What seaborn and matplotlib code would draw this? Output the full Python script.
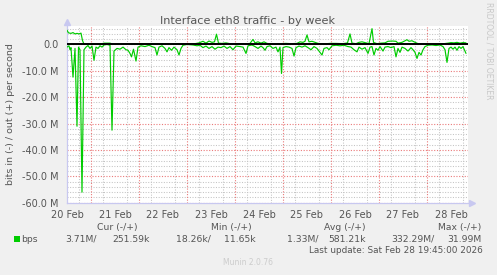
import numpy as np
import pandas as pd
import matplotlib
matplotlib.use("Agg")
import matplotlib.pyplot as plt
from matplotlib.ticker import FixedLocator
from matplotlib.patches import Rectangle
import seaborn as sns

# ---- data (hours since 20 Feb 12:00, values in Mbit/s) ----
in_hours = [0, 1, 1.5, 2, 3, 4, 5, 5.75, 6.5, 7.5, 8.5, 9.5, 10.5, 11.5, 12.5, 13.5, 14.5,
            15.5, 16.5, 17.5, 18.5, 20, 21.5, 22.5, 23.5, 25, 26.5, 28, 29.5, 30.5, 31.5,
            32.25, 33.25, 34.5, 35.5, 37, 39, 41, 42.5, 44, 45, 46, 47.5, 49, 50, 51,
            52.25, 53.5, 55, 56, 57, 58, 60, 63, 65, 66.5, 68, 69.5, 71, 72.5, 74, 75.5,
            77, 78.5, 80, 81.5, 83, 84.5, 86.5, 88, 89.5, 90.5, 92.5, 94, 95.5, 97, 98,
            99, 100, 101.5, 103, 104.5, 105.5, 106.5, 107.25, 108, 109.5, 111, 112.5,
            113.5, 114.5, 116, 117.5, 119, 120.5, 122, 123.5, 125, 126, 127.5, 128.5,
            130, 131, 132.5, 134.5, 136.5, 138.5, 140.5, 142, 143.5, 145, 146, 147.5,
            149, 150.5, 151.5, 152.5, 153.5, 154.5, 155.5, 156.5, 158, 159, 160.5, 162,
            163.5, 164.5, 165.5, 166.5, 167.5, 169, 170.5, 172, 173, 174, 175, 176, 177,
            178, 179, 180.5, 182.5, 184.5, 186.5, 188, 189, 190, 191, 192, 193, 194, 195,
            196, 197, 198, 199.5]
in_vals = [-1.0, -0.5, -2.0, -1.2, -12.4, -1.5, -31.0, -1.0, -2.0, -56.0, -2.0, -1.0, -0.4,
           -1.5, -0.6, -6.0, -1.0, -1.5, -0.5, -1.0, -0.2, 0.0, -0.3, -32.5, -2.5, -1.5,
           -1.8, -1.0, -2.0, -2.2, -3.4, -4.7, -1.8, -6.3, -1.0, -0.5, -0.8, -0.3, -0.8,
           -1.2, -4.0, -1.0, -0.5, -1.5, -2.8, -1.2, -2.2, -1.0, -2.0, -4.0, -1.5, -0.3,
           0.0, -0.2, -0.5, -0.3, -1.2, -0.6, -1.5, -0.8, -1.8, -1.0, -1.2, -0.6, -1.5,
           -0.8, -2.0, -0.6, -0.8, -1.0, -3.4, -0.5, -0.2, -0.8, -1.5, -0.6, -1.2, -2.2,
           -0.8, -0.5, -1.5, -1.0, -2.8, -1.0, -11.0, -1.2, -0.8, -1.0, -1.5, -4.4, -1.2,
           -0.6, -1.0, -0.5, -1.2, -2.0, -0.8, -1.5, -2.5, -4.0, -1.5, -1.2, -2.0, -0.5,
           -0.3, -0.5, -0.3, -0.8, -1.0, -2.0, -2.8, -1.0, -1.8, -1.2, -3.4, -1.0, -0.8,
           -4.0, -1.5, -2.2, -0.8, -2.5, -1.0, -0.8, -1.2, -0.8, -4.7, -1.5, -3.0, -1.0,
           -1.5, -2.5, -1.2, -2.0, -3.0, -5.3, -3.0, -4.0, -2.0, -0.8, -0.3, -0.2, -0.4,
           -0.2, -0.8, -2.0, -6.8, -1.5, -1.0, -1.8, -1.0, -2.2, -0.8, -1.5, -0.8, -3.4]

out_hours = [0, 0.75, 2, 3, 4, 5, 6, 7, 7.75, 8.5, 11.5, 16.5, 18.5, 21.5, 23, 31.5, 41.5,
             51.5, 59, 64, 66, 68, 69.5, 71, 72.5, 73.75, 74.75, 75.75, 77.5, 79.5, 81.5,
             84, 86.5, 89, 91.5, 93, 94, 95.5, 97, 98.5, 100, 102, 104.5, 106.5, 109.5,
             112, 115, 116.5, 118, 119, 120, 121, 122.5, 124, 125.5, 128.5, 131.5, 134.5,
             138, 140.25, 141.5, 142.5, 144.5, 146, 147.5, 149, 151, 152.5, 153.25, 155,
             157, 159, 160.5, 162.5, 164.5, 165.5, 167.5, 168.5, 170, 171, 172.5, 173.5,
             175.5, 177.5, 180.5, 184.5, 187.5, 190.5, 192, 193.5, 195, 196.5, 198, 199.5]
out_vals = [5.4, 4.4, 4.2, 4.5, 4.0, 4.2, 4.0, 4.3, 1.5, 0.1, 0.2, 0.1, 0.5, 0.5, 0.1, 0.2,
            0.1, 0.2, 0.1, 0.3, 0.6, 1.2, 0.5, 1.3, 0.8, 1.0, 3.9, 0.5, 0.4, 0.6, 0.3, 0.2,
            0.3, 0.2, 0.4, 1.9, 0.6, 1.0, 0.5, 1.0, 0.4, 0.2, 0.1, 0.3, 0.4, 0.3, 0.4, 1.0,
            0.8, 1.2, 3.6, 1.0, 1.2, 0.8, 0.4, 0.2, 0.4, 0.4, 0.3, 0.6, 4.0, 0.5, 0.3, 0.8,
            1.0, 0.7, 0.3, 6.0, 0.8, 0.3, 0.5, 0.6, 1.2, 1.3, 1.2, 0.5, 0.8, 1.2, 1.8, 1.2,
            1.4, 1.0, 0.3, 0.2, 0.1, 0.1, 0.2, 0.5, 0.7, 0.6, 0.8, 0.5, 0.7, 0.6]

day_labels = ["20 Feb", "21 Feb", "22 Feb", "23 Feb", "24 Feb", "25 Feb", "26 Feb",
              "27 Feb", "28 Feb"]
y_ticks = [0, -10, -20, -30, -40, -50, -60]
y_labels = ["0.0", "-10.0 M", "-20.0 M", "-30.0 M", "-40.0 M", "-50.0 M", "-60.0 M"]

title = "Interface eth8 traffic - by week"
ylabel = "bits in (-) / out (+) per second"
legend_headers = ["Cur (-/+)", "Min (-/+)", "Avg (-/+)", "Max (-/+)"]
legend_name = "bps"
legend_values = [("3.71M/", "251.59k"), ("18.26k/", "11.65k"),
                 ("1.33M/", "581.21k"), ("332.29M/", "31.99M")]
last_update = "Last update: Sat Feb 28 19:45:00 2026"
footer = "Munin 2.0.76"
side_text = "RRDTOOL / TOBI OETIKER"

# ---- style ----
sns.set_style("white")
plt.rcParams["font.family"] = ["DejaVu Sans"]
TXT = "#555555"
GREEN = "#00CC00"
BG = "#F0F0F0"
W, H = 497, 275
GRAY_GRID = "#C4C4C4"
RED_GRID = "#EA7A7A"
DOT = (0, (1, 1.5))

fig = plt.figure(figsize=(W / 100, H / 100), dpi=100, facecolor=BG)
ax = fig.add_axes([67 / W, 1 - 202.7 / H, 401 / W, (202.7 - 26) / H])
ax.set_facecolor("white")

df_in = pd.DataFrame({"hour": in_hours, "value": in_vals})
df_out = pd.DataFrame({"hour": out_hours, "value": out_vals})
sns.lineplot(data=df_in, x="hour", y="value", ax=ax, color=GREEN, lw=0.85,
             estimator=None, sort=False, zorder=3)
sns.lineplot(data=df_out, x="hour", y="value", ax=ax, color=GREEN, lw=0.85,
             estimator=None, sort=False, zorder=3)
ax.axhline(0, color="black", lw=1.4, zorder=4)

ax.set_xlim(0, 200.5)
ax.set_ylim(-60, 7)

# grids: minor gray every 6 h / 2 M, major red at midnights / every 10 M
ax.xaxis.set_major_locator(FixedLocator([24 * i for i in range(len(day_labels))]))
ax.set_xticklabels(day_labels)
ax.xaxis.set_minor_locator(FixedLocator([h for h in range(0, 201, 6) if h % 24 != 12]))
ax.set_yticks(y_ticks)
ax.set_yticklabels(y_labels)
ax.yaxis.set_minor_locator(FixedLocator([v for v in range(-60, 8, 2) if v % 10 != 0]))
ax.grid(False)
ax.grid(which="minor", axis="both", color=GRAY_GRID, ls=DOT, lw=0.75, zorder=1)
ax.grid(which="major", axis="y", color=RED_GRID, ls=DOT, lw=0.8, zorder=1)
for d in range(1, len(day_labels)):
    ax.axvline(24 * d - 12, color=RED_GRID, ls=DOT, lw=0.8, zorder=1.5)

ax.set_xlabel("")
ax.set_ylabel("")
ax.tick_params(which="both", length=0, labelsize=7, colors=TXT)
ax.tick_params(axis="y", pad=6)
ax.tick_params(axis="x", pad=5)
for s in ["top", "right"]:
    ax.spines[s].set_visible(False)
for s in ["left", "bottom"]:
    ax.spines[s].set_color("#C8C8F0")
    ax.spines[s].set_linewidth(0.9)
ax.plot([0], [1.02], marker="^", color="#C8C8F0", ms=5, transform=ax.transAxes,
        clip_on=False)
ax.plot([1.01], [0], marker=">", color="#C8C8F0", ms=5, transform=ax.transAxes,
        clip_on=False)

# texts
fig.text(248 / W, 1 - 20.5 / H, title, ha="center", va="center", fontsize=8.1, color=TXT)
fig.text(11 / W, 1 - 114 / H, ylabel, ha="center", va="center", rotation=90,
         fontsize=6.8, color=TXT)
fig.text(488.5 / W, 1 - 51 / H, side_text, ha="center", va="center", rotation=270,
         fontsize=5.5, color="#C8C8C8")

hdr_x = [117.5, 231, 345, 459.5]
for x, h in zip(hdr_x, legend_headers):
    fig.text(x / W, 1 - 227.3 / H, h, ha="center", va="center", fontsize=6.7, color=TXT)

fig.patches.append(Rectangle((14 / W, 1 - 242.3 / H), 6 / W, 6 / H, transform=fig.transFigure,
                             facecolor=GREEN, edgecolor="none"))
fig.text(20.7 / W, 1 - 239.3 / H, legend_name, ha="left", va="center", fontsize=6.7, color=TXT)
val_right = [(97, 150), (210.7, 256), (318.3, 366), (435, 482)]
for (a, b), (va, vb) in zip(val_right, legend_values):
    fig.text(a / W, 1 - 239.3 / H, va, ha="right", va="center", fontsize=6.7, color=TXT)
    fig.text(b / W, 1 - 239.3 / H, vb, ha="right", va="center", fontsize=6.7, color=TXT)
fig.text(482.3 / W, 1 - 250.7 / H, last_update, ha="right", va="center", fontsize=6.4,
         color=TXT)
fig.text(248 / W, 1 - 262.7 / H, footer, ha="center", va="center", fontsize=5.5,
         color="#CCCCCC")

fig.savefig("out.png", dpi=100, facecolor=BG)
